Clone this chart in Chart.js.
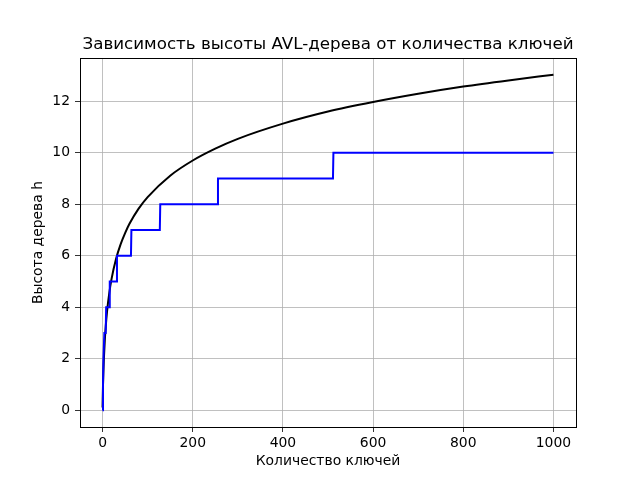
<!DOCTYPE html>
<html>
<head>
<meta charset="utf-8">
<script src="https://cdn.jsdelivr.net/npm/chart.js@4/dist/chart.umd.min.js"></script>
<style>
  html, body { margin: 0; padding: 0; background: #fff; }
  #wrap { width: 640px; height: 480px; }
</style>
</head>
<body>
<div id="wrap"><canvas id="avlChart" width="640" height="480"></canvas></div>
<script>
// Blue step line: actual AVL tree height by number of keys
const stepKeys = [0, 1, 2, 3, 4, 7, 8, 15, 16, 31, 32, 63, 64, 127, 128, 255, 256, 511, 512, 1000];
const stepHeights = [0, 1, 2, 2, 3, 3, 4, 4, 5, 5, 6, 6, 7, 7, 8, 8, 9, 9, 10, 10];

// Black curve: upper bound
const boundKeys = [0, 1, 2, 3, 5, 7, 10, 15, 20, 30, 40, 50, 60, 80, 100, 150, 200, 250, 300, 400, 500, 600, 700, 800, 900, 1000];
const boundHeights = [0.11, 0.96, 1.55, 2.02, 2.72, 3.24, 3.84, 4.56, 5.10, 5.88, 6.44, 6.88, 7.25, 7.83, 8.28, 9.11, 9.70, 10.16, 10.54, 11.13, 11.60, 11.97, 12.29, 12.57, 12.81, 13.03];

const xTicks = [0, 200, 400, 600, 800, 1000];
const yTicks = [0, 2, 4, 6, 8, 10, 12];

const TITLE = 'Зависимость высоты AVL-дерева от количества ключей';
const FONT = 'DejaVu Sans';

// Frame around the plotting area and a title centred over it (matplotlib style)
const framePlugin = {
    id: 'frame',
    afterDraw(chart) {
        const a = chart.chartArea;
        const ctx = chart.ctx;
        ctx.save();
        ctx.strokeStyle = '#000';
        ctx.lineWidth = 1;
        ctx.strokeRect(Math.round(a.left) + 0.5, Math.round(a.top) + 0.5,
            Math.round(a.right - a.left), Math.round(a.bottom - a.top));
        ctx.fillStyle = '#000';
        ctx.font = '16.7px "' + FONT + '"';
        ctx.textAlign = 'center';
        ctx.textBaseline = 'alphabetic';
        ctx.fillText(TITLE, (a.left + a.right) / 2, a.top - 9);
        ctx.restore();
    }
};

document.addEventListener('DOMContentLoaded', function() {
    const ctx = document.getElementById('avlChart').getContext('2d');
    new Chart(ctx, {
        type: 'line',
        data: {
            datasets: [{
                label: 'h',
                data: stepKeys.map((k, i) => ({ x: k, y: stepHeights[i] })),
                borderColor: '#0000ff',
                borderWidth: 2,
                pointRadius: 0,
                tension: 0,
                fill: false
            }, {
                label: 'bound',
                data: boundKeys.map((k, i) => ({ x: k, y: boundHeights[i] })),
                borderColor: '#000000',
                borderWidth: 2,
                pointRadius: 0,
                cubicInterpolationMode: 'monotone',
                fill: false
            }]
        },
        options: {
            responsive: false,
            animation: false,
            layout: { padding: { left: 0, right: 64, top: 58, bottom: 0 } },
            plugins: {
                legend: { display: false },
                tooltip: { enabled: false },
                title: { display: false }
            },
            scales: {
                x: {
                    type: 'linear',
                    min: -50,
                    max: 1050,
                    afterBuildTicks: s => { s.ticks = xTicks.map(v => ({ value: v })); },
                    afterFit: s => { s.height = 53; },
                    grid: { color: '#b0b0b0', lineWidth: 0.8, tickColor: '#000', tickLength: 5 },
                    border: { display: false },
                    ticks: {
                        color: '#000',
                        font: { family: FONT, size: 13.9 },
                        padding: 3,
                        maxRotation: 0,
                        callback: v => String(v)
                    },
                    title: {
                        display: true,
                        text: 'Количество ключей',
                        color: '#000',
                        font: { family: FONT, size: 13.9 },
                        padding: { top: 0, bottom: 10 }
                    }
                },
                y: {
                    type: 'linear',
                    min: -0.65,
                    max: 13.68,
                    afterBuildTicks: s => { s.ticks = yTicks.map(v => ({ value: v })); },
                    afterFit: s => { s.width = 80; },
                    grid: { color: '#b0b0b0', lineWidth: 0.8, tickColor: '#000', tickLength: 5 },
                    border: { display: false },
                    ticks: {
                        color: '#000',
                        font: { family: FONT, size: 13.9 },
                        padding: 5,
                        callback: v => String(v)
                    },
                    title: {
                        display: true,
                        text: 'Высота дерева h',
                        color: '#000',
                        font: { family: FONT, size: 13.9 },
                        padding: { top: 30, bottom: 0 }
                    }
                }
            }
        },
        plugins: [framePlugin]
    });
});
</script>
</body>
</html>
